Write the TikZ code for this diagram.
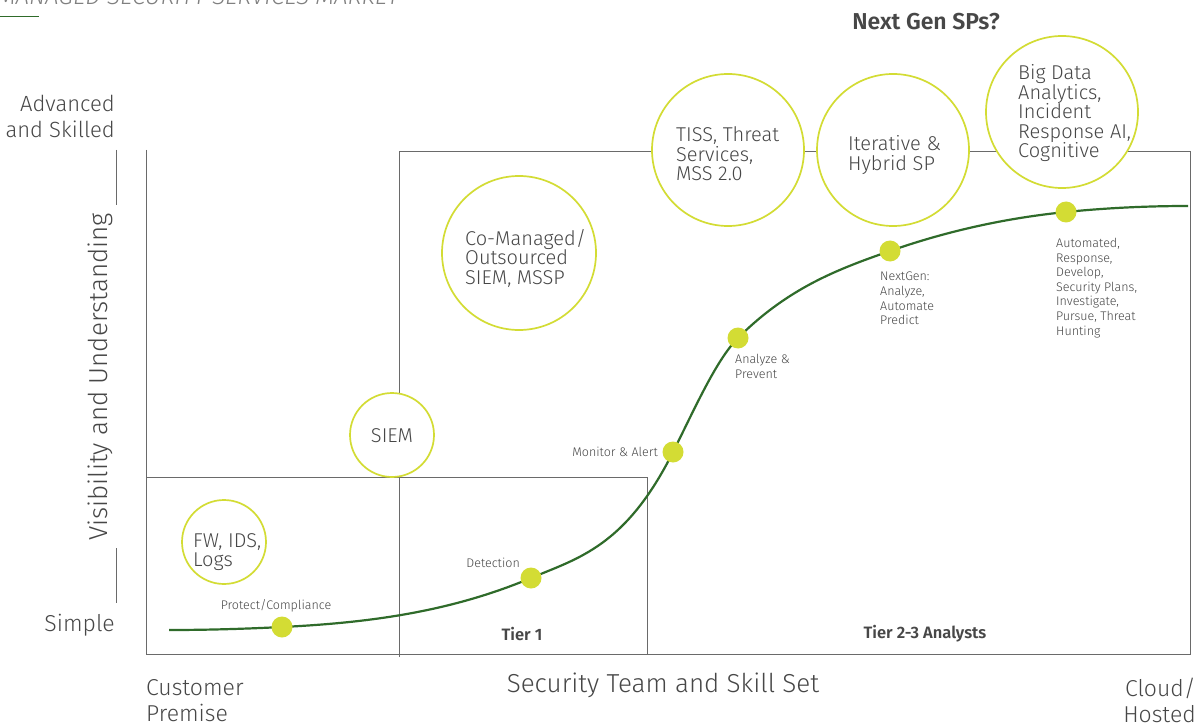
\documentclass[tikz,border=0pt]{standalone}
\usepackage{fontspec}
\setmainfont{Fira Sans Light}[BoldFont={Fira Sans SemiBold},ItalicFont={Fira Sans Light Italic}]
\definecolor{lime}{HTML}{D3DC34}
\definecolor{curvegreen}{HTML}{2F6B2A}
\definecolor{frame}{HTML}{6A6A6A}
\definecolor{ink}{HTML}{474747}
\tikzset{
  bubble/.style={circle, draw=lime, line width=1.7pt, fill=white, inner sep=0pt},
  bubbletext/.style={anchor=west, align=left, text=ink, inner sep=0pt,
    font=\fontsize{20}{19.5}\selectfont},
  dot/.style={circle, fill=lime, inner sep=0pt, minimum size=21pt},
  stage/.style={align=left, text=ink, inner sep=0pt, font=\fontsize{12.5}{14.6}\selectfont},
  axislabel/.style={text=ink, inner sep=0pt, font=\fontsize{23}{26}\selectfont},
  tier/.style={text=ink, inner sep=0pt, font=\bfseries\fontsize{16.5}{18}\selectfont},
  gridline/.style={draw=frame, line width=1pt}
}
\begin{document}
\begin{tikzpicture}[x=1pt, y=-1pt]
\clip (0,0) rectangle (1198,727);
\fill[white] (0,0) rectangle (1198,727);

% running head
\node[anchor=base west, inner sep=0pt, text=black!50, font=\itshape\fontsize{24}{26}\selectfont]
  (head) at (-3,5) {MANAGED SECURITY SERVICES MARKET};
\draw[curvegreen, line width=1pt] (0,17) -- (39,17);

\node[tier, font=\bfseries\fontsize{23}{24}\selectfont] (nextgen) at (926,22) {Next Gen SPs?};

% vertical axis
\node[axislabel, anchor=east, align=right, font=\fontsize{22}{26}\selectfont] (adv) at (115,116) {Advanced\\and Skilled};
\node[axislabel, anchor=east] (simple) at (115,625) {Simple};
\node[axislabel, rotate=90, font=\fontsize{26}{28}\selectfont] (vis) at (100,377) {Visibility and Understanding};
\coordinate (vtop1) at (116,150);
\coordinate (vtop2) at (116,205);
\coordinate (vbot1) at (116,548);
\coordinate (vbot2) at (116,603);
\draw[gridline] (vtop1) -- (vtop2);
\draw[gridline] (vbot1) -- (vbot2);

% frames
\draw[gridline] (146,150) -- (146,654) -- (1190,654) -- (1190,152) -- (399,152) -- (399,657);
\draw[gridline] (146,477) -- (647,477) -- (647,654);

% bottom labels
\node[axislabel, anchor=north west, align=left] (cust) at (146,679) {Customer\\Premise};
\node[axislabel, anchor=north east, align=right] (cloud) at (1196,678) {Cloud/\\Hosted};
\node[axislabel, font=\fontsize{26}{28}\selectfont] (team) at (663,685) {Security Team and Skill Set};
\node[tier] (tier1) at (522,634) {Tier 1};
\node[tier] (tier23) at (925,634) {Tier 2-3 Analysts};

% service bubbles
\node[bubble, minimum size=84pt] (fw) at (224,542) {};
\node[bubbletext] (fwt) at (193,552) {FW, IDS,\\Logs};
\node[bubble, minimum size=84pt] (siem) at (392,435) {};
\node[bubbletext, anchor=center] (siemt) at (392,436) {SIEM};
\node[bubble, minimum size=154pt] (comng) at (519,253) {};
\node[bubbletext] (comngt) at (465,258) {Co-Managed/\\Outsourced\\SIEM, MSSP};
\node[bubble, minimum size=152pt] (tiss) at (728,150) {};
\node[bubbletext] (tisst) at (676,154) {TISS, Threat\\Services,\\MSS 2.0};
\node[bubble, minimum size=152pt] (iter) at (893,150) {};
\node[bubbletext] (itert) at (848,155) {Iterative \&\\Hybrid SP};
\node[bubble, minimum size=152pt] (bigd) at (1062,112) {};
\node[bubbletext] (bigdt) at (1018,113.5) {Big Data\\Analytics,\\Incident\\Response AI,\\Cognitive};

% maturity curve through the stage points
\coordinate (c0) at (169,630);
\coordinate (p1) at (282,627);
\coordinate (p2) at (531,578);
\coordinate (p3) at (673,452);
\coordinate (p4) at (738,338);
\coordinate (p5) at (890,251);
\coordinate (p6) at (1066,212);
\coordinate (c9) at (1188,206);
\draw[curvegreen, line width=2.2pt]
  (c0) .. controls (206.7,630) and (244.3,628.9) .. (p1)
       .. controls (365,622.9) and (448,612.9) .. (p2)
       .. controls (578.3,558.1) and (625.7,546.6) .. (p3)
       .. controls (694.7,408.7) and (716.3,359.7) .. (p4)
       .. controls (788.7,287.3) and (839.3,268.7) .. (p5)
       .. controls (948.7,230.5) and (1007.3,217.9) .. (p6)
       .. controls (1106.7,207.9) and (1147.3,206) .. (c9);

\node[dot] (d1) at (p1) {};
\node[dot] (d2) at (p2) {};
\node[dot] (d3) at (p3) {};
\node[dot] (d4) at (p4) {};
\node[dot] (d5) at (p5) {};
\node[dot] (d6) at (p6) {};

\node[stage] (l1) at (276,606) {Protect/Compliance};
\node[stage, anchor=east] (l2) at (520,563) {Detection};
\node[stage, anchor=east] (l3) at (658,452) {Monitor \& Alert};
\node[stage, anchor=north west] (l4) at (735,354) {Analyze \&\\Prevent};
\node[stage, anchor=north west] (l5) at (880,272) {NextGen:\\Analyze,\\Automate\\Predict};
\node[stage, anchor=north west] (l6) at (1056,238) {Automated,\\Response,\\Develop,\\Security Plans,\\Investigate,\\Pursue, Threat\\Hunting};
\end{tikzpicture}
\end{document}
